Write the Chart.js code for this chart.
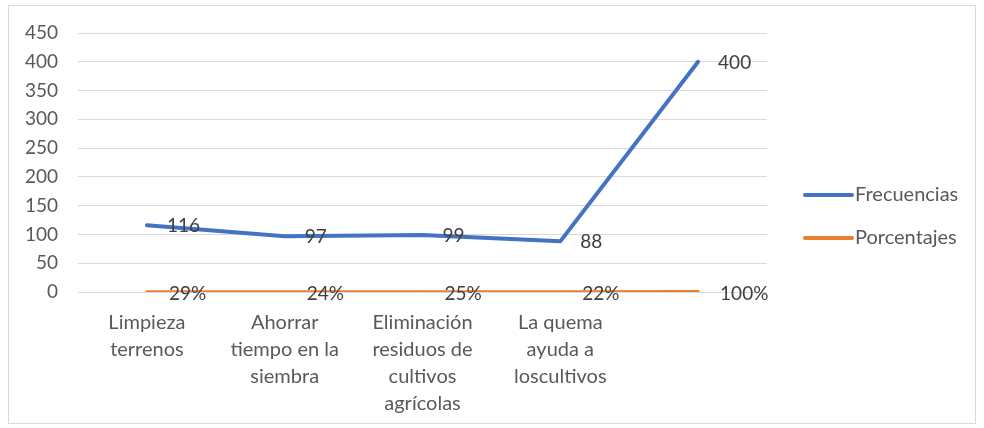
<!DOCTYPE html>
<html><head><meta charset="utf-8">
<script src="https://cdn.jsdelivr.net/npm/chart.js@4/dist/chart.umd.min.js"></script>
<style>html,body{margin:0;padding:0;background:#fff;}canvas{display:block;}</style>
</head><body>
<canvas id="c" width="984" height="428"></canvas>
<script>
const categories = [
  ["Limpieza","terrenos"],
  ["Ahorrar","tiempo en la","siembra"],
  ["Eliminación","residuos de","cultivos","agrícolas"],
  ["La quema","ayuda a","loscultivos"],
  ""
];
const frecuencias = [116, 97, 99, 88, 400];
const porcentajes = [0.29, 0.24, 0.25, 0.22, 1.00];
const porcentajeLabels = ["29%", "24%", "25%", "22%", "100%"];
const yTicks = [0, 50, 100, 150, 200, 250, 300, 350, 400, 450];

const FONT = "Lato, 'Open Sans', sans-serif";
const TXT = "#404040";

const labelsPlugin = {
  id: 'labelsPlugin',
  afterDatasetsDraw(chart) {
    const ctx = chart.ctx;
    ctx.save();
    ctx.font = "19px " + FONT;
    ctx.fillStyle = TXT;
    ctx.textAlign = "left";
    ctx.textBaseline = "middle";
    chart.getDatasetMeta(0).data.forEach((pt, i) => {
      ctx.fillText(String(frecuencias[i]), pt.x + 20, pt.y + 1);
    });
    chart.getDatasetMeta(1).data.forEach((pt, i) => {
      ctx.fillText(porcentajeLabels[i], pt.x + 22, pt.y + 2);
    });
    ctx.restore();
  },
  afterDraw(chart) {
    const ctx = chart.ctx;
    ctx.save();
    ctx.strokeStyle = "#d9d9d9";
    ctx.lineWidth = 1;
    ctx.strokeRect(8.5, 5.5, 967, 418);
    const items = chart.data.datasets;
    const ys = [195, 238];
    items.forEach((ds, i) => {
      ctx.strokeStyle = ds.borderColor;
      ctx.lineWidth = 4;
      ctx.lineCap = "round";
      ctx.beginPath();
      ctx.moveTo(805, ys[i]);
      ctx.lineTo(852, ys[i]);
      ctx.stroke();
      ctx.font = "20px " + FONT;
      ctx.fillStyle = "#595959";
      ctx.textAlign = "left";
      ctx.textBaseline = "middle";
      ctx.fillText(ds.label, 855, ys[i]);
    });
    ctx.restore();
  }
};

new Chart(document.getElementById('c'), {
  type: 'line',
  data: {
    labels: categories,
    datasets: [
      { label: "Frecuencias", data: frecuencias, borderColor: "#4472C4", backgroundColor: "#4472C4",
        borderWidth: 4, pointRadius: 0, tension: 0, borderCapStyle: 'round', borderJoinStyle: 'round' },
      { label: "Porcentajes", data: porcentajes, borderColor: "#ED7D31", backgroundColor: "#ED7D31",
        borderWidth: 3, pointRadius: 0, tension: 0, borderCapStyle: 'round' }
    ]
  },
  options: {
    responsive: false,
    animation: false,
    events: [],
    layout: { padding: { top: 33, right: 217, bottom: 0, left: 0 } },
    plugins: { legend: { display: false }, tooltip: { enabled: false } },
    scales: {
      x: {
        offset: true,
        grid: { display: false, drawTicks: false },
        border: { display: false },
        ticks: { color: "#595959", font: { family: FONT, size: 20, lineHeight: 1.35 }, padding: 17, maxRotation: 0, autoSkip: false },
        afterFit(s) { s.height = 136; }
      },
      y: {
        min: 0, max: 450,
        afterBuildTicks(s) { s.ticks = yTicks.map(v => ({ value: v })); },
        grid: { color: "#d9d9d9", lineWidth: 1, drawTicks: false },
        border: { display: false },
        ticks: { color: "#595959", font: { family: FONT, size: 19 }, padding: 20 },
        afterFit(s) { s.width = 78; }
      }
    }
  },
  plugins: [labelsPlugin]
});
</script>
</body></html>
